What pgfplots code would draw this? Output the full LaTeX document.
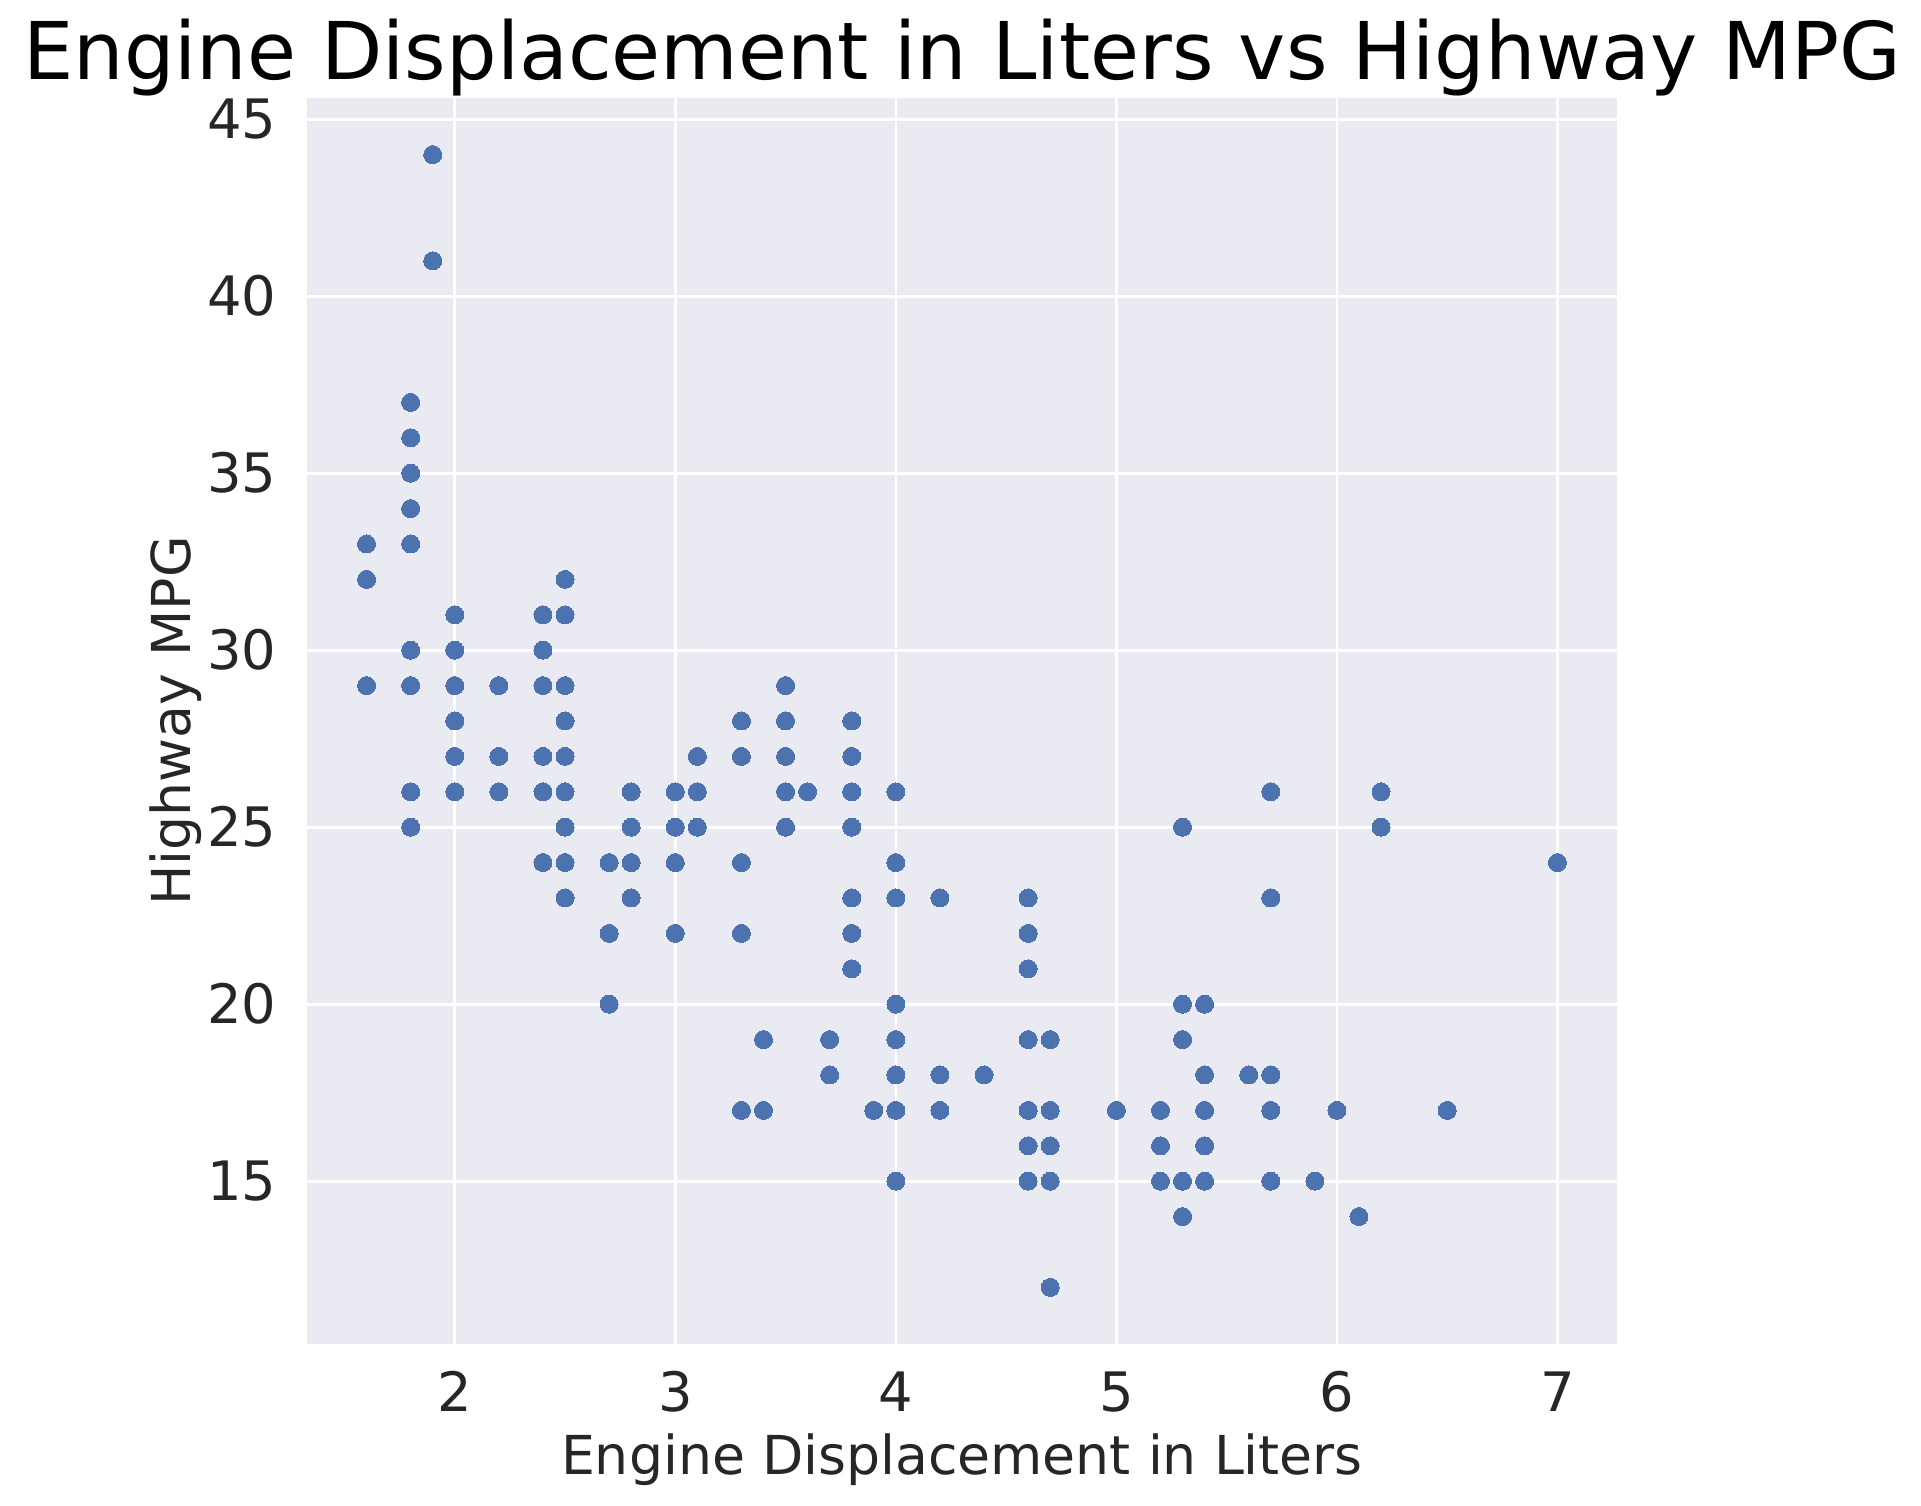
\documentclass[border=0pt]{standalone}
\usepackage{pgfplots}
\pgfplotsset{compat=1.18}
\usepackage{fontspec}
\setmainfont{DejaVu Sans}
\definecolor{sbblue}{RGB}{76,114,176}
\definecolor{sbbg}{RGB}{234,234,242}
\definecolor{txt}{RGB}{38,38,38}
\begin{document}
\begin{tikzpicture}
\path[use as bounding box] (-92.1bp,-48.3bp) rectangle (484.2bp,403.2bp);
\begin{axis}[
  at={(0,0)}, anchor=south west,
  scale only axis, width=393bp, height=373.8bp,
  xmin=1.33, xmax=7.27, ymin=10.4, ymax=45.6,
  axis background/.style={fill=sbbg},
  axis line style={draw=none},
  major tick length=0pt,
  grid=major, grid style={white, line width=0.8bp},
  xtick={2,3,4,5,6,7}, ytick={15,20,25,30,35,40,45},
  /pgf/number format/assume math mode=true,
  ticklabel style={font=\fontsize{16.3bp}{19bp}\selectfont, text=txt},
  xticklabel style={anchor=base, yshift=-20.1bp},
  yticklabel style={anchor=east, inner sep=0pt, xshift=-9bp},
  title={Engine Displacement in Liters vs Highway MPG},
  title style={at={(axis description cs:0.5,1)}, anchor=base, yshift=-0.45bp, font=\fontsize{23.9bp}{28bp}\selectfont, text=black, inner sep=0pt},
  xlabel={Engine Displacement in Liters},
  xlabel style={at={(axis description cs:0.5,0)}, anchor=base, yshift=-39bp, font=\fontsize{16.1bp}{19bp}\selectfont, text=txt, inner sep=0pt},
]
\addplot[only marks, color=sbblue, mark=*, mark size=2.7bp, mark options={solid, fill=sbblue, draw=sbblue, line width=0pt}] coordinates {
(1.6,33)(1.6,32)(1.6,29)
(1.8,37)(1.8,36)(1.8,35)(1.8,34)(1.8,33)(1.8,30)(1.8,29)(1.8,26)(1.8,25)
(1.9,44)(1.9,41)
(2.0,31)(2.0,30)(2.0,29)(2.0,28)(2.0,27)(2.0,26)
(2.2,29)(2.2,27)(2.2,26)
(2.4,31)(2.4,30)(2.4,29)(2.4,27)(2.4,26)(2.4,24)
(2.5,32)(2.5,31)(2.5,29)(2.5,28)(2.5,27)(2.5,26)(2.5,25)(2.5,24)(2.5,23)
(2.7,24)(2.7,22)(2.7,20)
(2.8,26)(2.8,25)(2.8,24)(2.8,23)
(3.0,26)(3.0,25)(3.0,24)(3.0,22)
(3.1,27)(3.1,26)(3.1,25)
(3.3,28)(3.3,27)(3.3,24)(3.3,22)(3.3,17)
(3.4,19)(3.4,17)
(3.5,29)(3.5,28)(3.5,27)(3.5,26)(3.5,25)
(3.6,26)
(3.7,19)(3.7,18)
(3.8,28)(3.8,27)(3.8,26)(3.8,25)(3.8,23)(3.8,22)(3.8,21)
(3.9,17)
(4.0,26)(4.0,24)(4.0,23)(4.0,20)(4.0,19)(4.0,18)(4.0,17)(4.0,15)
(4.2,23)(4.2,18)(4.2,17)
(4.4,18)
(4.6,23)(4.6,22)(4.6,21)(4.6,19)(4.6,17)(4.6,16)(4.6,15)
(4.7,19)(4.7,17)(4.7,16)(4.7,15)(4.7,12)
(5.0,17)
(5.2,17)(5.2,16)(5.2,15)
(5.3,25)(5.3,20)(5.3,19)(5.3,15)(5.3,14)
(5.4,20)(5.4,18)(5.4,17)(5.4,16)(5.4,15)
(5.6,18)
(5.7,26)(5.7,23)(5.7,18)(5.7,17)(5.7,15)
(5.9,15)(6.0,17)(6.1,14)(6.2,26)(6.2,25)(6.5,17)(7.0,24)
};
\end{axis}
\node[anchor=base, rotate=90, inner sep=0pt, font=\fontsize{16.1bp}{19bp}\selectfont, text=txt] at (-35.1bp,186.9bp) {Highway MPG};
\end{tikzpicture}
\end{document}
